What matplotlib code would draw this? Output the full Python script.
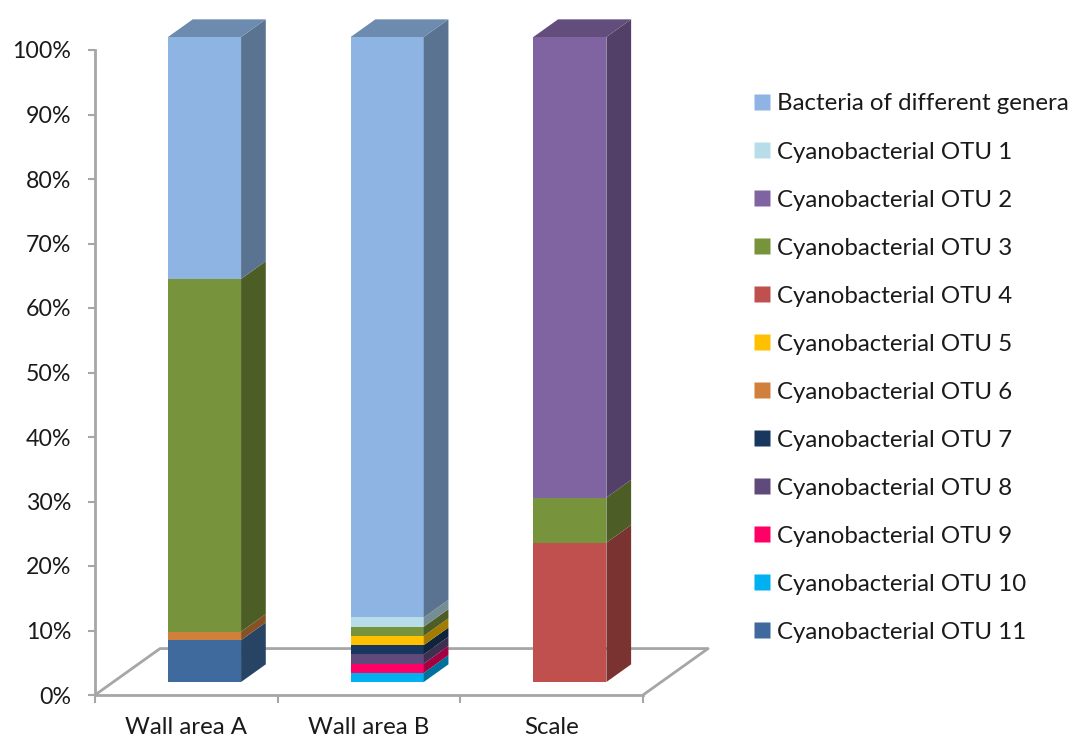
import matplotlib
matplotlib.use("Agg")
import matplotlib.pyplot as plt
from matplotlib.patches import Polygon
from matplotlib.lines import Line2D
import numpy as np

plt.rcParams['font.family'] = ['Lato', 'DejaVu Sans']

# ---- data -------------------------------------------------------------
sites = ["Wall area A", "Wall area B", "Scale"]

series_names = [
    "Bacteria of different genera",
    "Cyanobacterial OTU 1",
    "Cyanobacterial OTU 2",
    "Cyanobacterial OTU 3",
    "Cyanobacterial OTU 4",
    "Cyanobacterial OTU 5",
    "Cyanobacterial OTU 6",
    "Cyanobacterial OTU 7",
    "Cyanobacterial OTU 8",
    "Cyanobacterial OTU 9",
    "Cyanobacterial OTU 10",
    "Cyanobacterial OTU 11",
]

# percent share per site (Wall area A, Wall area B, Scale)
bacteria = [37.5, 90.0, 0.0]
otu1 = [0.0, 1.43, 0.0]
otu2 = [0.0, 0.0, 71.4]
otu3 = [54.7, 1.43, 7.0]
otu4 = [0.0, 0.0, 21.6]
otu5 = [0.0, 1.43, 0.0]
otu6 = [1.3, 0.0, 0.0]
otu7 = [0.0, 1.43, 0.0]
otu8 = [0.0, 1.43, 0.0]
otu9 = [0.0, 1.43, 0.0]
otu10 = [0.0, 1.42, 0.0]
otu11 = [6.5, 0.0, 0.0]

series_values = [bacteria, otu1, otu2, otu3, otu4, otu5, otu6,
                 otu7, otu8, otu9, otu10, otu11]

series_colors = [
    "#8DB4E2", "#B7DEE8", "#8064A2", "#77933C", "#C0504D", "#FFC000",
    "#D0803A", "#17375E", "#604A7B", "#FF0066", "#00B0F0", "#3E6A9E",
]

# ---- geometry of the pseudo-3D view -------------------------------------
bar_w = 0.40            # bar width in category units
floor_dx = 0.356        # depth vector of the floor (x in categories)
floor_dy = 7.2          # depth vector of the floor (y in percent)
front_f, back_f = 0.28, 0.66   # depth band occupied by the bars
side_k, top_k = 0.64, 0.77     # shading of side and top faces
grey = "#A6A6A6"
text_col = "#1A1A1A"


def shade(color, k):
    r, g, b = matplotlib.colors.to_rgb(color)
    return (r * k, g * k, b * k)


fig = plt.figure(figsize=(10.77, 7.40), dpi=100)
W, H = 1077, 740
ax = fig.add_axes([95 / W, (H - 695) / H, 548 / W, 645 / H])
ax.set_xlim(-0.5, len(sites) - 0.5)
ax.set_ylim(0, 100)

# floor outline
x0, x1 = -0.5, len(sites) - 0.5
ax.add_line(Line2D([x0, x0 + floor_dx, x1 + floor_dx, x1],
                   [0, floor_dy, floor_dy, 0],
                   color=grey, lw=2, clip_on=False, zorder=1))

# stacked boxes, bottom series drawn first
ox, oy = front_f * floor_dx, front_f * floor_dy
ddx = (back_f - front_f) * floor_dx
ddy = (back_f - front_f) * floor_dy
for i in range(len(sites)):
    bottom = 0.0
    top_color = None
    for name, vals, col in reversed(list(zip(series_names, series_values, series_colors))):
        v = vals[i]
        if v <= 0:
            continue
        xl = i - bar_w / 2 + ox
        xr = xl + bar_w
        y0 = bottom + oy
        y1 = y0 + v
        ax.bar(xl, v, width=bar_w, bottom=y0, align='edge', color=col,
               linewidth=0, clip_on=False, zorder=3)
        ax.add_patch(Polygon([(xr, y0), (xr + ddx, y0 + ddy),
                              (xr + ddx, y1 + ddy), (xr, y1)],
                             closed=True, facecolor=shade(col, side_k),
                             edgecolor='none', clip_on=False, zorder=3))
        bottom += v
        top_color = col
    if top_color is not None:
        xl = i - bar_w / 2 + ox
        xr = xl + bar_w
        yt = bottom + oy
        ax.add_patch(Polygon([(xl, yt), (xr, yt), (xr + ddx, yt + ddy),
                              (xl + ddx, yt + ddy)],
                             closed=True, facecolor=shade(top_color, top_k),
                             edgecolor='none', clip_on=False, zorder=3))

# axes styling
for s in ("top", "right"):
    ax.spines[s].set_visible(False)
for s in ("left", "bottom"):
    ax.spines[s].set_color(grey)
    ax.spines[s].set_linewidth(2)
ax.set_facecolor("none")

yt_vals = np.arange(0, 101, 10)
ax.set_yticks(yt_vals)
ax.set_yticklabels([f"{v}%" for v in yt_vals])
ax.tick_params(axis='y', direction='out', length=5, width=1.5, color=grey,
               labelsize=16.7, labelcolor=text_col, pad=12)

ax.set_xticks(range(len(sites)))
ax.set_xticklabels(sites)
ax.set_xticks(np.arange(-0.5, len(sites), 1.0), minor=True)
ax.tick_params(axis='x', which='major', length=0, labelsize=17.3,
               labelcolor=text_col, pad=16)
ax.tick_params(axis='x', which='minor', direction='out', length=6,
               width=1.5, color=grey)

# legend
handles = [Line2D([], [], linestyle='none', marker='s', markersize=11,
                  markerfacecolor=c, markeredgecolor='none')
           for c in series_colors]
leg = fig.legend(handles, series_names, loc='upper left',
                 bbox_to_anchor=(754 / W, 1 - 93.5 / H), frameon=False,
                 fontsize=17.3, labelspacing=1.125, handlelength=0.7,
                 handletextpad=0.25, borderpad=0, borderaxespad=0)
for t in leg.get_texts():
    t.set_color(text_col)

fig.savefig("out.png", dpi=100)
